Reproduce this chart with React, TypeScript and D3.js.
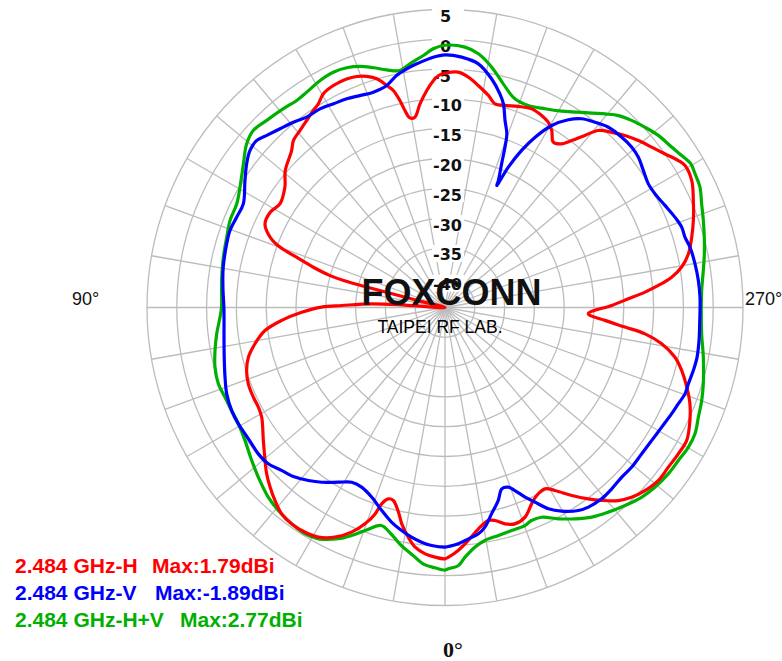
import React, { useEffect, useRef } from 'react';
import * as d3 from 'd3';

// ---------- data ----------
const ringValues = [5, 0, -5, -10, -15, -20, -25, -30, -35, -40];
const tickLabels = ['5', '0', '-5', '-10', '-15', '-20', '-25', '-30', '-35', '-40'];
const spokeAngles = [0, 10, 20, 30, 40, 50, 60, 70, 80, 90, 100, 110, 120, 130, 140, 150, 160, 170,
  190, 200, 210, 220, 230, 240, 250, 260, 270, 280, 290, 300, 310, 320, 330, 340, 350];
const angleLabels = ['0°', '90°', '270°'];

const seriesNames = ['2.484 GHz-H', '2.484 GHz-V', '2.484 GHz-H+V'];
const maxLabels = ['Max:1.79dBi', 'Max:-1.89dBi', 'Max:2.77dBi'];

const hAngles = [0, 2.3, 4.6, 7.1, 9.1, 11.3, 12.8, 15, 16.5, 17.9,
  18.7, 20.3, 22.6, 25.6, 28.9, 31.9, 35.3, 38.4, 41.4, 44.2,
  47, 49.6, 53.8, 59.1, 61.9, 64.9, 68.8, 72.4, 75.8, 79.2,
  82.7, 85.5, 88.1, 90.2, 91.1, 92.9, 93.5, 97, 104.4, 104.9,
  105.5, 107, 108.7, 110.1, 111.9, 114.9, 118.6, 122.1, 126.9, 130.6,
  135.6, 137.8, 140.7, 143.5, 146.2, 148.1, 150.3, 153.3, 156.7, 159.1,
  161.3, 163.4, 165.3, 166.6, 167.7, 168.5, 169.5, 171, 173, 175.2,
  177.1, 178.4, 180, 183.2, 185.8, 188.5, 191.6, 193.8, 196.5, 200,
  203.6, 206.7, 209.1, 211.1, 213.2, 215.5, 217.2, 219.1, 220.9, 223.6,
  226.3, 229.2, 232.2, 235.1, 237.8, 239.4, 242.8, 246.7, 250.7, 254.1,
  257.6, 260.3, 262.4, 264.1, 265.6, 267.3, 269.3, 272.5, 274.6, 276.2,
  277.5, 279.5, 282.2, 284.9, 288.2, 291.5, 295.4, 298.8, 302.1, 305.6,
  309, 312.5, 315.5, 318.1, 320.9, 323.2, 326, 329, 331.1, 334,
  336.2, 339.1, 342.1, 344.5, 346.8, 348.5, 351.4, 354.3, 356.9, 359.2];
const hGain = [-2.83, -3.08, -3.53, -4.47, -5.98, -7.98, -9.78, -11.48, -11.52, -10.39,
  -8.44, -6.3, -4.18, -2.27, -1.0, -0.59, -0.51, -0.85, -1.85, -2.92,
  -4.08, -5.36, -7.23, -9.16, -9.5, -9.5, -9.6, -10.08, -10.97, -12.54,
  -14.55, -17.51, -20.94, -24.3, -27.7, -32.7, -38.3, -45, -40, -27.4,
  -25, -21.9, -18.7, -15.5, -13.4, -11.7, -11.6, -12.3, -11.4, -9.7,
  -8.2, -7.15, -6.6, -5.97, -5.25, -4.76, -3.75, -3.31, -3.24, -3.51,
  -4.07, -4.96, -6.49, -7.57, -9.46, -11.27, -12.64, -12.67, -10.57, -8.46,
  -6.86, -6.06, -5.7, -5.45, -6.16, -7.33, -8.69, -9.82, -9.64, -9.1,
  -8.63, -8.93, -9.4, -10.32, -11.83, -11.28, -9.83, -7.79, -5.71, -4.41,
  -3.23, -2.14, -1.11, 0.03, 1.27, 1.79, 1.55, 0.37, -0.85, -1.96,
  -3.19, -4.72, -6.63, -9.02, -11.34, -14.21, -17.04, -20.93, -18.07, -14.62,
  -11.15, -8.14, -5.52, -3.91, -2.3, -0.83, 0.44, 1.28, 1.21, 1.06,
  1.08, 0.49, -0.35, -1.48, -3.29, -4.89, -6.96, -9.18, -10.26, -9.9,
  -8.99, -7.35, -6.85, -7.33, -8.29, -8.53, -7.44, -5.71, -4.17, -3.1];

const vAngles = [0, 3.2, 5.7, 8.3, 11, 14, 17.3, 21.1, 24.9, 28.1,
  31.4, 35.2, 38.3, 41.5, 45.1, 48.5, 51.9, 54.8, 57.7, 60.6,
  64.2, 68.4, 72.4, 76.5, 81.5, 86.6, 90, 95, 100, 106.3,
  109.7, 113.4, 117.2, 122.4, 125.9, 128.8, 131.6, 134, 137.3, 140.7,
  144, 147.8, 151.3, 154.8, 158.1, 161.6, 165.3, 168.2, 170.9, 173.4,
  177.3, 180, 183.8, 187.8, 191.5, 194.4, 196, 197.8, 199.6, 200.5,
  201.5, 202.8, 203, 204.3, 206, 207.9, 210.4, 213.3, 215.9, 219,
  222.2, 226, 229.3, 232.1, 235.4, 238.7, 241.6, 245.1, 248.6, 251.3,
  253.7, 256.2, 260.1, 263.9, 267.7, 270, 273.7, 277.4, 281.2, 284.2,
  287.4, 289.8, 292.4, 295.1, 298.9, 302.8, 306.7, 310.5, 313.8, 317.4,
  320.7, 324.3, 326.7, 330.2, 332.8, 335.2, 337.1, 339.1, 340.6, 342.6,
  344.6, 347.3, 349.7, 351.6, 354.2, 356.8, 359.2];
const vGain = [-4.79, -5.01, -5.43, -6.06, -6.88, -7.89, -9.32, -10.88, -11.77, -11.77,
  -10.66, -9.12, -8.01, -7.0, -6.28, -5.42, -5.2, -5.31, -5.31, -5.21,
  -5.25, -5.61, -6.28, -6.92, -7.51, -7.86, -7.9, -7.6, -7.2, -6.84,
  -6.68, -6.9, -6.95, -5.25, -3.91, -3.0, -2.77, -3.43, -4.19, -4.82,
  -5.52, -5.62, -6.03, -6.3, -6.68, -6.92, -6.49, -5.23, -4.44, -3.84,
  -2.95, -2.6, -2.9, -3.74, -5.84, -7.98, -9.45, -12.05, -14.08, -16.28,
  -19.09, -21.89, -22.77, -19.17, -15.68, -12.68, -9.6, -7.32, -5.91, -5.0,
  -4.18, -3.83, -3.71, -3.91, -4.56, -5.07, -4.93, -4.31, -3.54, -3.06,
  -3.04, -2.66, -2.42, -2.25, -2.18, -2.2, -2.18, -2.02, -1.89, -2.01,
  -2.21, -2.2, -2.65, -3.0, -3.47, -3.76, -3.87, -3.79, -3.9, -3.67,
  -3.51, -3.76, -4.25, -5.62, -7.03, -9.02, -10.46, -12.13, -13.04, -13.12,
  -11.4, -9.51, -7.54, -6.62, -5.99, -5.28, -4.89];

const hvAngles = [0, 2.2, 4.8, 7.2, 10.8, 13.5, 16.3, 19.7, 22.3, 24.8,
  28.7, 31.7, 35.3, 39.4, 43, 47.7, 51.6, 56.4, 60.6, 64.2,
  67.8, 71.4, 75.5, 79.4, 83.4, 87.5, 90, 96.9, 102.8, 107.9,
  112, 116.5, 120.4, 125.5, 129.5, 132.7, 136.4, 140.9, 144.4, 147.3,
  151.2, 154.6, 157.7, 160.6, 163.4, 166.2, 169.2, 171.8, 175.1, 177.4,
  180, 184.4, 187.5, 191, 194.6, 198.5, 202.4, 206.7, 210.7, 214.3,
  219.6, 222.1, 224.9, 228, 231.1, 234.7, 237.3, 239.6, 241.9, 244.7,
  248, 251.4, 254.8, 258.3, 261.8, 266.2, 270, 275.9, 280.9, 286.5,
  289.9, 293.4, 296.8, 299.9, 303.3, 306.7, 310.5, 314, 317.7, 321.4,
  325, 328.4, 331.8, 335.3, 337.9, 339.9, 343.4, 346.8, 350.3, 352.9,
  355.4, 357, 359.3];
const hvGain = [-0.95, -1.3, -1.8, -3.0, -4.6, -6.0, -6.9, -5.25, -3.66, -2.26,
  -0.75, -0.35, -0.51, -0.93, -1.51, -2.67, -3.63, -4.7, -5.21, -5.25,
  -5.14, -4.87, -5.13, -5.74, -6.44, -7.21, -7.5, -7.25, -6.86, -6.52,
  -6.09, -5.96, -5.12, -3.46, -1.86, -1.22, -1.64, -2.02, -2.27, -2.06,
  -1.52, -1.3, -1.53, -2.12, -3.03, -3.94, -4.52, -3.7, -2.56, -1.55,
  -1.0, -1.19, -2.07, -3.92, -6.22, -8.07, -8.34, -7.68, -6.68, -5.32,
  -2.85, -1.6, -0.67, 0.18, 0.98, 1.59, 2.19, 2.77, 2.57, 2.31,
  1.44, 0.74, 0.08, -0.56, -1.21, -1.84, -2.0, -1.71, -0.86, 0.2,
  0.81, 1.32, 2.0, 2.08, 1.82, 1.72, 1.37, 0.84, -0.1, -1.07,
  -2.07, -3.37, -4.77, -6.26, -6.42, -6.04, -5.94, -5.71, -5.34, -4.47,
  -2.98, -1.66, -1.15];

// ---------- layout / style ----------
const W = 782;
const H = 661;
const CX = 445;
const CY = 307.5;
const R = 298;
const GRID = '#bcbcbc';
const COLORS = ['#ff0000', '#0000ff', '#00b000'];
const LEGEND_X = 15;
const LEGEND_Y = [573, 600, 627];
const LEGEND_MAX_X = [152, 155, 180];

export default function App() {
  const ref = useRef<SVGSVGElement>(null);

  useEffect(() => {
    const svg = d3.select(ref.current);
    svg.selectAll('*').remove();

    const r = d3.scaleLinear().domain([-45, 5]).range([0, R]).clamp(true);
    const toRad = (deg: number) => Math.PI + (deg * Math.PI) / 180;

    svg.append('rect').attr('width', W).attr('height', H).attr('fill', '#fff');

    const g = svg.append('g').attr('transform', `translate(${CX},${CY})`);

    // rings
    g.append('g')
      .selectAll('circle')
      .data(ringValues)
      .join('circle')
      .attr('r', (d) => r(d))
      .attr('fill', 'none')
      .attr('stroke', GRID)
      .attr('stroke-width', 1.3);

    // spokes
    g.append('g')
      .selectAll('line')
      .data(spokeAngles)
      .join('line')
      .attr('x1', 0)
      .attr('y1', 0)
      .attr('x2', (a) => R * Math.sin(toRad(a)))
      .attr('y2', (a) => -R * Math.cos(toRad(a)))
      .attr('stroke', GRID)
      .attr('stroke-width', 1.3);

    // tick labels with white backgrounds
    const lab = g.append('g');
    ringValues.forEach((v, i) => {
      const y = -r(v);
      lab.append('rect')
        .attr('x', -13)
        .attr('y', y - 3)
        .attr('width', 32)
        .attr('height', 17)
        .attr('fill', '#fff');
      lab.append('text')
        .attr('x', v < 0 ? -12 : -5)
        .attr('y', y + 12.5)
        .attr('font-family', '"DejaVu Sans", sans-serif')
        .attr('font-weight', 'bold')
        .attr('font-size', 16)
        .attr('fill', '#111')
        .text(tickLabels[i]);
    });

    // watermark
    svg.append('text')
      .attr('x', 451.5)
      .attr('y', 305)
      .attr('text-anchor', 'middle')
      .attr('font-family', '"Liberation Sans", Arial, sans-serif')
      .attr('font-weight', 'bold')
      .attr('font-size', 36)
      .attr('fill', '#111')
      .text('FOXCONN');
    svg.append('text')
      .attr('x', 440)
      .attr('y', 333)
      .attr('text-anchor', 'middle')
      .attr('font-family', '"Liberation Sans", Arial, sans-serif')
      .attr('font-size', 17.5)
      .attr('fill', '#000')
      .text('TAIPEI RF LAB.');

    // curves
    const line = d3
      .lineRadial<[number, number]>()
      .angle((d) => toRad(d[0]))
      .radius((d) => r(d[1]))
      .curve(d3.curveCatmullRomClosed.alpha(0.5));

    const series: [number, number][][] = [
      hvAngles.map((a, i) => [a, hvGain[i]] as [number, number]),
      hAngles.map((a, i) => [a, hGain[i]] as [number, number]),
      vAngles.map((a, i) => [a, vGain[i]] as [number, number]),
    ];
    const seriesColors = [COLORS[2], COLORS[0], COLORS[1]];
    series.forEach((s, i) => {
      g.append('path')
        .attr('d', line(s) as string)
        .attr('fill', 'none')
        .attr('stroke', seriesColors[i])
        .attr('stroke-width', 3.2)
        .attr('stroke-linejoin', 'round');
    });

    // angle labels
    svg.append('text')
      .attr('x', 443)
      .attr('y', 657)
      .attr('font-family', '"Liberation Serif", "Times New Roman", serif')
      .attr('font-weight', 'bold')
      .attr('font-size', 22)
      .attr('fill', '#111')
      .text(angleLabels[0]);
    svg.append('text')
      .attr('x', 72)
      .attr('y', 305)
      .attr('font-family', '"Liberation Sans", Arial, sans-serif')
      .attr('font-size', 18)
      .attr('fill', '#111')
      .text(angleLabels[1]);
    svg.append('text')
      .attr('x', 745)
      .attr('y', 305)
      .attr('font-family', '"Liberation Sans", Arial, sans-serif')
      .attr('font-size', 18)
      .attr('fill', '#111')
      .text(angleLabels[2]);

    // legend
    seriesNames.forEach((name, i) => {
      const t = svg.append('g');
      t.append('text')
        .attr('x', LEGEND_X)
        .attr('y', LEGEND_Y[i])
        .attr('font-family', '"Liberation Sans", Arial, sans-serif')
        .attr('font-weight', 'bold')
        .attr('font-size', 21)
        .attr('fill', COLORS[i])
        .text(name);
      t.append('text')
        .attr('x', LEGEND_MAX_X[i])
        .attr('y', LEGEND_Y[i])
        .attr('font-family', '"Liberation Sans", Arial, sans-serif')
        .attr('font-weight', 'bold')
        .attr('font-size', 21)
        .attr('fill', COLORS[i])
        .text(maxLabels[i]);
    });
  }, []);

  return (
    <svg
      ref={ref}
      width={W}
      height={H}
      style={{ position: 'absolute', left: 0, top: 0, display: 'block' }}
    />
  );
}
